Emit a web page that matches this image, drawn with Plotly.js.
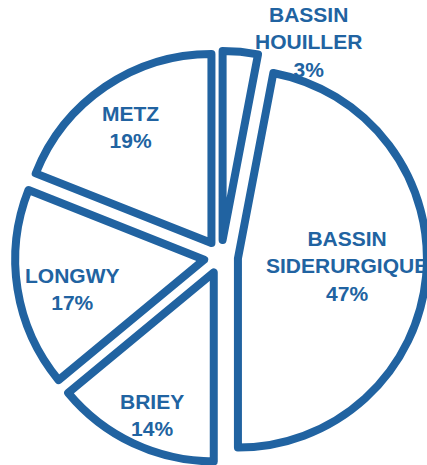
<!DOCTYPE html>
<html>
<head>
<meta charset="utf-8">
<script src="https://cdn.plot.ly/plotly-3.0.1.min.js"></script>
<style>
html, body { margin: 0; padding: 0; background: #fff; overflow: hidden; }
#chart { width: 427px; height: 465px; }
</style>
</head>
<body>
<div id="chart"></div>
<script>
// Data
var categories = ['BASSIN HOUILLER', 'BASSIN SIDERURGIQUE', 'BRIEY', 'LONGWY', 'METZ'];
var shares = [3, 47, 14, 17, 19];
var labelLines = [['BASSIN', 'HOUILLER'], ['BASSIN', 'SIDERURGIQUE'], ['BRIEY'], ['LONGWY'], ['METZ']];

var blue = '#2163a1';

// label anchor positions (paper coords), layout only
var labelPos = [
  [0.712, 1.022],
  [0.805, 0.478],
  [0.332, 0.117],
  [0.139, 0.422],
  [0.280, 0.815]
];

var annotations = categories.map(function (c, i) {
  return {
    xref: 'paper', yref: 'paper',
    x: labelPos[i][0], y: labelPos[i][1],
    xanchor: 'center', yanchor: 'middle',
    showarrow: false,
    align: 'center',
    text: labelLines[i].join('<br>') + '<br>' + shares[i] + '%',
    font: { family: 'Liberation Sans, Arial, sans-serif', size: 21, color: blue, weight: 'bold' }
  };
});

var trace = {
  type: 'pie',
  labels: categories,
  values: shares,
  sort: false,
  direction: 'clockwise',
  rotation: 0,
  pull: [0.09, 0.09, 0.09, 0.09, 0.09],
  textinfo: 'none',
  hoverinfo: 'skip',
  marker: {
    colors: ['#ffffff', '#ffffff', '#ffffff', '#ffffff', '#ffffff'],
    line: { color: blue, width: 8 }
  },
  showlegend: false
};

var layout = {
  width: 427,
  height: 465,
  margin: { l: 15, r: 0, t: 51, b: 2 },
  paper_bgcolor: '#ffffff',
  plot_bgcolor: '#ffffff',
  showlegend: false,
  annotations: annotations
};

Plotly.newPlot('chart', [trace], layout, { displayModeBar: false, staticPlot: true });
</script>
</body>
</html>
